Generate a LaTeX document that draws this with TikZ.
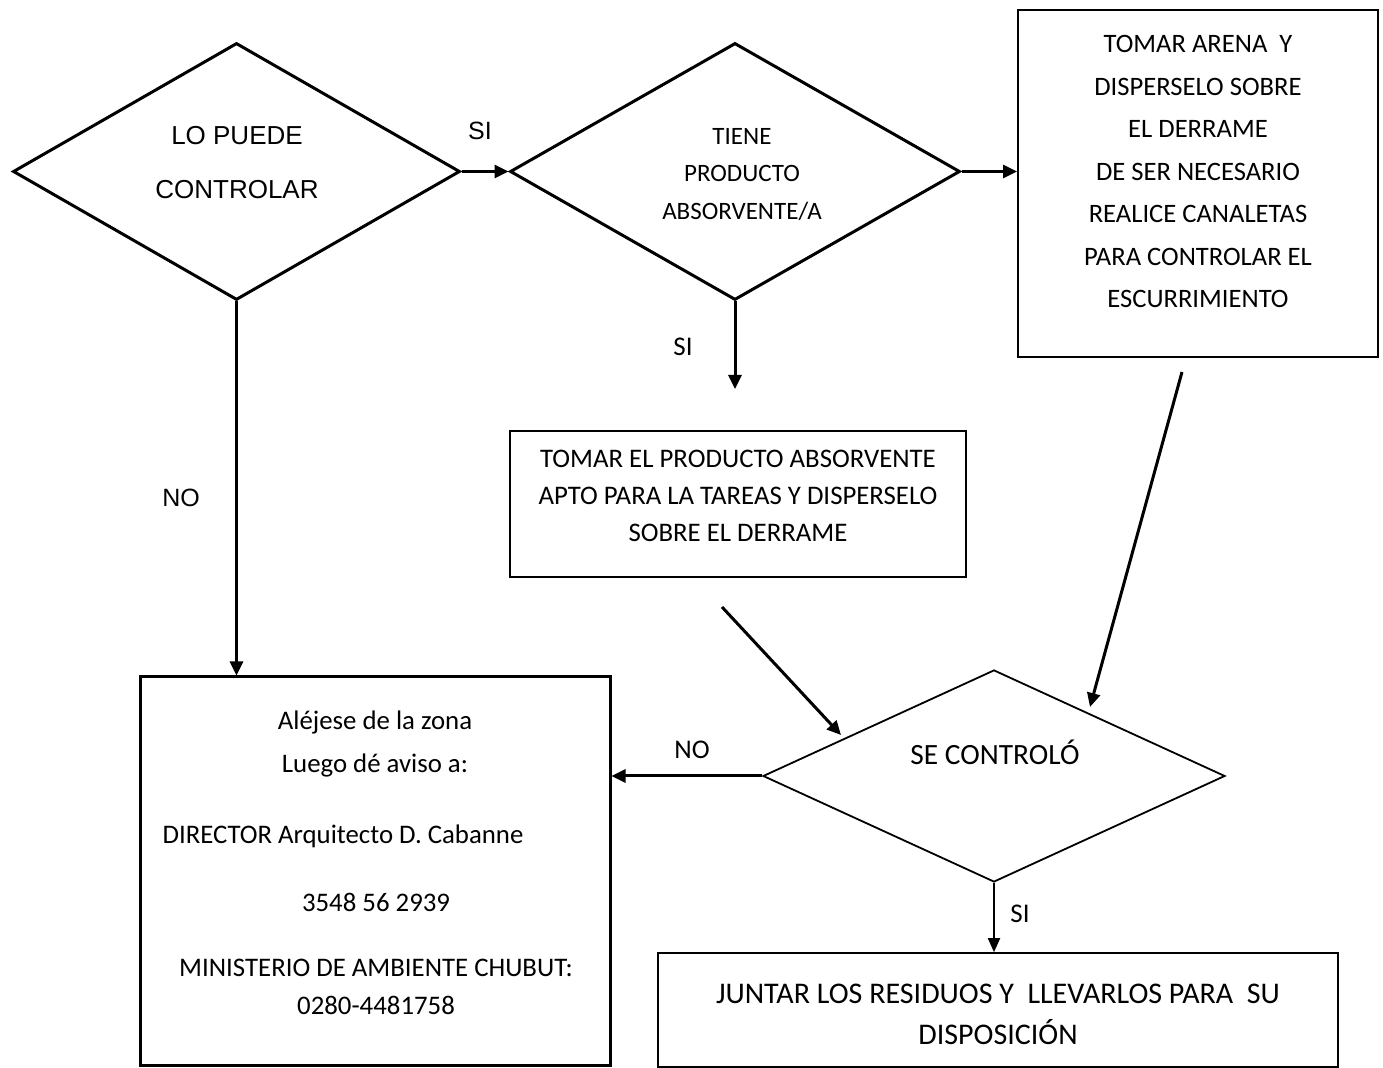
\documentclass[tikz,border=0pt]{standalone}
\usepackage{fontspec}
\setmainfont{Carlito}
\newfontfamily\arialf{Liberation Sans}
\usetikzlibrary{shapes.geometric,arrows.meta}
\begin{document}
\begin{tikzpicture}[x=0.5pt,y=-0.5pt,
  dec/.style={draw,diamond,inner sep=0pt,line width=#1},
  dec/.default=1.5pt,
  boxx/.style={draw,rectangle,inner sep=0pt,line width=#1},
  boxx/.default=1pt,
  txt/.style={align=center,inner sep=0pt},
  arr/.style={line width=1.5pt,-{Triangle[length=7pt,width=6.5pt]}},
  arrthin/.style={line width=0.9pt,-{Triangle[length=7pt,width=6pt]}},
  lab/.style={inner sep=0pt,font=\fontsize{13.5}{14}\selectfont}
]
\useasboundingbox (0,0) rectangle (1383,1068);
% decisions
\node[dec, minimum width=223.5pt, minimum height=128.5pt] (d1) at (236.5,171.5) {};
\node[dec, minimum width=225pt, minimum height=128.5pt] (d2) at (735,171.5) {};
\node[dec=0.9pt, minimum width=231pt, minimum height=106pt] (d3) at (994,776) {};
% boxes
\node[boxx, minimum width=180pt, minimum height=173.5pt] (bR) at (1198,183.5) {};
\node[boxx=0.8pt, minimum width=228pt, minimum height=73pt] (bM) at (738,504) {};
\node[boxx=1.5pt, minimum width=235pt, minimum height=194.5pt] (bL) at (375,871.5) {};
\node[boxx=0.8pt, minimum width=340pt, minimum height=57pt] (bB) at (998,1010) {};
% texts
\node[txt, font=\arialf\fontsize{13}{27}\selectfont] (t1) at (237,163) {LO PUEDE\\CONTROLAR};
\node[txt, font=\fontsize{12.5}{18.75}\selectfont] (t2) at (742,174.5) {TIENE\\PRODUCTO\\ABSORVENTE/A};
\node[txt, font=\fontsize{13.3}{21.25}\selectfont] (tR) at (1198,171.5) {TOMAR ARENA\ \ Y\\DISPERSELO SOBRE\\EL DERRAME\\DE SER NECESARIO\\REALICE CANALETAS\\PARA CONTROLAR EL\\ESCURRIMIENTO};
\node[txt, font=\fontsize{13.4}{18.5}\selectfont] (tM) at (738,496) {TOMAR EL PRODUCTO ABSORVENTE\\APTO PARA LA TAREAS Y DISPERSELO\\SOBRE EL DERRAME};
\node[txt, font=\fontsize{14.7}{16}\selectfont] (t3) at (995,752) {SE CONTROLÓ};
\node[txt, font=\fontsize{13.4}{16}\selectfont] (tL1) at (375,722) {Aléjese de la zona};
\node[txt, font=\fontsize{13.4}{16}\selectfont] (tL2) at (375,766) {Luego dé aviso a:};
\node[txt, font=\fontsize{13.4}{16}\selectfont] (tL3) at (343,836) {DIRECTOR Arquitecto D. Cabanne};
\node[txt, font=\fontsize{13.4}{16}\selectfont] (tL4) at (376,902) {3548 56 2939};
\node[txt, font=\fontsize{13.4}{19}\selectfont] (tL5) at (376,987) {MINISTERIO DE AMBIENTE CHUBUT:\\0280-4481758};
\node[txt, font=\fontsize{15}{20.5}\selectfont] (tB) at (998,1014.5) {JUNTAR LOS RESIDUOS Y\ \ LLEVARLOS PARA\ \ SU\\DISPOSICIÓN};
% labels
\node[lab, font=\arialf\fontsize{12.5}{14}\selectfont] (s1) at (480,131) {SI};
\node[lab] (s2) at (683,347) {SI};
\node[lab, font=\arialf\fontsize{12.5}{14}\selectfont] (n1) at (181,498) {NO};
\node[lab] (n2) at (692,750) {NO};
\node[lab] (s3) at (1020,914) {SI};
% free coordinates
\coordinate (d2end) at (735,389);
\coordinate (m1) at (722,607);
\coordinate (m2) at (841,735);
\coordinate (r1) at (1182,372);
\coordinate (r2) at (1090,707);
% connectors
\draw[arr] (d1.east) -- (d2.west);
\draw[arr] (d2.east) -- (bR.west |- d2.east);
\draw[arr] (d2.south) -- (d2end);
\draw[arr] (d1.south) -- (d1.south |- bL.north);
\draw[arr] (d3.west) -- (d3.west -| bL.east);
\draw[arrthin] (d3.south) -- (d3.south |- bB.north);
\draw[arr] (m1) -- (m2);
\draw[arr] (r1) -- (r2);
\end{tikzpicture}
\end{document}
